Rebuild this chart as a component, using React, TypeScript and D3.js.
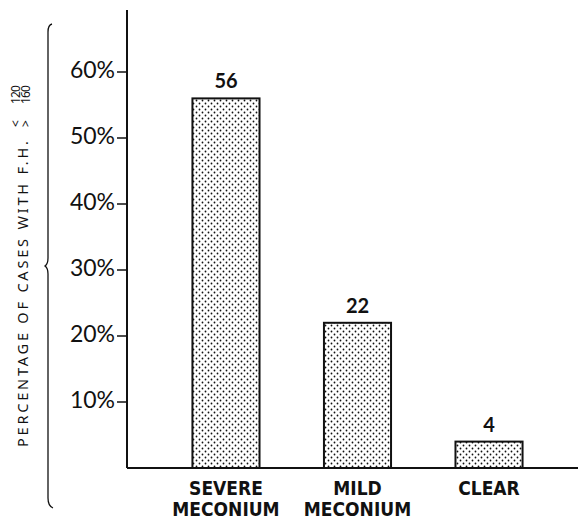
import { useEffect, useRef } from 'react';
import * as d3 from 'd3';

const categories = ['SEVERE MECONIUM', 'MILD MECONIUM', 'CLEAR'];
const values = [56, 22, 4];
const yTicks = [10, 20, 30, 40, 50, 60];

const W = 578;
const H = 521;
const AXIS_X = 127;
const BASE_Y = 468;

export default function App() {
  const ref = useRef<SVGSVGElement>(null);

  useEffect(() => {
    const svg = d3.select(ref.current);
    svg.selectAll('*').remove();

    const x = d3.scaleBand<string>()
      .domain(categories)
      .range([AXIS_X + 1, 587])
      .paddingInner(0.49)
      .paddingOuter(0.49);

    const y = d3.scaleLinear().domain([0, 60]).range([BASE_Y, 72]);

    // dot fill
    const pat = svg.append('defs').append('pattern')
      .attr('id', 'dots')
      .attr('patternUnits', 'userSpaceOnUse')
      .attr('width', 6).attr('height', 6);
    pat.append('rect').attr('width', 6).attr('height', 6).attr('fill', '#fff');
    pat.append('circle').attr('cx', 1.5).attr('cy', 1.5).attr('r', 0.9).attr('fill', '#111');
    pat.append('circle').attr('cx', 4.5).attr('cy', 4.5).attr('r', 0.9).attr('fill', '#111');

    // bars
    svg.selectAll('rect.bar')
      .data(categories)
      .enter()
      .append('rect')
      .attr('class', 'bar')
      .attr('x', (d) => x(d)!)
      .attr('width', x.bandwidth())
      .attr('y', (_, i) => y(values[i]))
      .attr('height', (_, i) => BASE_Y - y(values[i]))
      .attr('fill', 'url(#dots)')
      .attr('stroke', '#111')
      .attr('stroke-width', 2);

    // value labels
    svg.selectAll('text.val')
      .data(categories)
      .enter()
      .append('text')
      .attr('x', (d) => x(d)! + x.bandwidth() / 2)
      .attr('y', (_, i) => y(values[i]) - 10)
      .attr('text-anchor', 'middle')
      .attr('font-family', 'Lato, sans-serif')
      .attr('font-weight', 'bold')
      .attr('font-size', 20)
      .attr('fill', '#111')
      .text((_, i) => values[i]);

    // axes lines
    svg.append('line')
      .attr('x1', AXIS_X).attr('x2', AXIS_X)
      .attr('y1', 10).attr('y2', BASE_Y)
      .attr('stroke', '#111').attr('stroke-width', 2);
    svg.append('line')
      .attr('x1', AXIS_X).attr('x2', W)
      .attr('y1', BASE_Y).attr('y2', BASE_Y)
      .attr('stroke', '#111').attr('stroke-width', 2);

    // y ticks
    const tg = svg.append('g');
    yTicks.forEach((t) => {
      tg.append('line')
        .attr('x1', AXIS_X - 10).attr('x2', AXIS_X)
        .attr('y1', y(t)).attr('y2', y(t))
        .attr('stroke', '#111').attr('stroke-width', 1.5);
      tg.append('text')
        .attr('x', AXIS_X - 12)
        .attr('y', y(t) + 6)
        .attr('text-anchor', 'end')
        .attr('font-family', 'Lato, sans-serif')
        .attr('font-size', 23)
        .attr('fill', '#111')
        .text(`${t}%`);
    });

    // category labels
    categories.forEach((c) => {
      const cx = x(c)! + x.bandwidth() / 2;
      const words = c.split(' ');
      words.forEach((w, j) => {
        svg.append('text')
          .attr('x', cx)
          .attr('y', 495 + j * 21)
          .attr('text-anchor', 'middle')
          .attr('font-family', '"DejaVu Sans Condensed", "DejaVu Sans", sans-serif')
          .attr('font-stretch', 'condensed')
          .attr('font-weight', 'bold')
          .attr('font-size', 19)
          .attr('fill', '#111')
          .text(w);
      });
    });

    // y label
    const font = '"Noto Sans", sans-serif';
    const lab = svg.append('g').attr('transform', 'translate(28,447) rotate(-90)');
    lab.append('text')
      .attr('x', 0).attr('y', 0)
      .attr('font-family', font)
      .attr('font-size', 14.5)
      .attr('fill', '#111')
      .attr('textLength', 306)
      .attr('lengthAdjust', 'spacing')
      .text('PERCENTAGE OF CASES WITH F.H.');
    const fs = 12;
    lab.append('text').attr('x', 320).attr('y', -8).attr('font-family', font)
      .attr('font-size', fs).attr('fill', '#111').text('<');
    lab.append('text').attr('x', 343).attr('y', -8).attr('font-family', font)
      .attr('font-size', fs).attr('fill', '#111').attr('textLength', 19).text('120');
    lab.append('text').attr('x', 320).attr('y', 2).attr('font-family', font)
      .attr('font-size', fs).attr('fill', '#111').text('>');
    lab.append('text').attr('x', 343).attr('y', 2).attr('font-family', font)
      .attr('font-size', fs).attr('fill', '#111').attr('textLength', 19).text('160');

    // brace
    svg.append('path')
      .attr('d', 'M52,24 Q48,25 48,32 L48,258 Q48,264 45,266 Q48,268 48,274 L48,498 Q48,506 53,508')
      .attr('fill', 'none')
      .attr('stroke', '#111')
      .attr('stroke-width', 1.3);
  }, []);

  return (
    <svg ref={ref} width={W} height={H} style={{ position: 'absolute', left: 0, top: 0, background: '#fff' }} />
  );
}
